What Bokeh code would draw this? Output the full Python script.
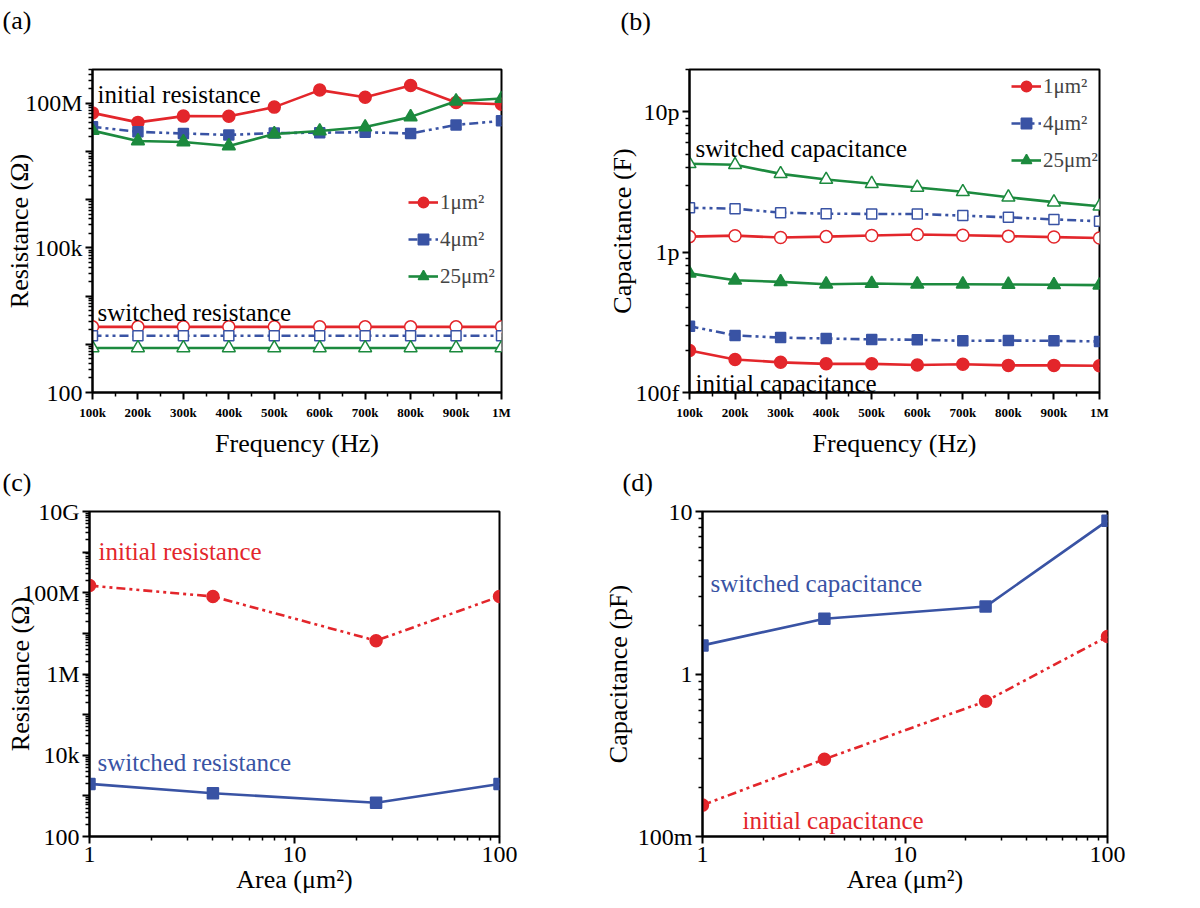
from bokeh.plotting import figure
from bokeh.layouts import column, row
from bokeh.models import Label, FixedTicker, Range1d, Title
from bokeh.embed import file_html
from bokeh.resources import INLINE

# ---------------- data ----------------
freq = [1e5, 2e5, 3e5, 4e5, 5e5, 6e5, 7e5, 8e5, 9e5, 1e6]
freq_labels = ["100k", "200k", "300k", "400k", "500k", "600k", "700k", "800k", "900k", "1M"]

# (a) resistance vs frequency (ohm)
R_init_1 = [6.3e7, 4.0e7, 5.4e7, 5.35e7, 8.3e7, 1.87e8, 1.33e8, 2.33e8, 1.03e8, 9.5e7]
R_init_4 = [3.25e7, 2.55e7, 2.35e7, 2.2e7, 2.4e7, 2.45e7, 2.5e7, 2.35e7, 3.55e7, 4.3e7]
R_init_25 = [2.7e7, 1.65e7, 1.57e7, 1.3e7, 2.3e7, 2.65e7, 3.2e7, 5.2e7, 1.1e8, 1.25e8]
R_sw_1 = [2300, 2300, 2300, 2300, 2300, 2300, 2300, 2300, 2300, 2300]
R_sw_4 = [1500, 1500, 1500, 1500, 1500, 1500, 1500, 1500, 1500, 1500]
R_sw_25 = [840, 840, 840, 840, 840, 840, 840, 840, 840, 840]

# (b) capacitance vs frequency (F)
C_sw_25 = [4.26e-12, 4.19e-12, 3.61e-12, 3.29e-12, 3.07e-12, 2.89e-12, 2.69e-12, 2.46e-12, 2.27e-12, 2.12e-12]
C_sw_4 = [2.07e-12, 2.04e-12, 1.91e-12, 1.88e-12, 1.87e-12, 1.87e-12, 1.82e-12, 1.77e-12, 1.71e-12, 1.66e-12]
C_sw_1 = [1.29e-12, 1.31e-12, 1.27e-12, 1.29e-12, 1.315e-12, 1.335e-12, 1.32e-12, 1.30e-12, 1.28e-12, 1.26e-12]
C_init_25 = [7.06e-13, 6.3e-13, 6.14e-13, 5.91e-13, 5.97e-13, 5.91e-13, 5.91e-13, 5.88e-13, 5.85e-13, 5.82e-13]
C_init_4 = [2.97e-13, 2.55e-13, 2.46e-13, 2.425e-13, 2.39e-13, 2.375e-13, 2.335e-13, 2.345e-13, 2.335e-13, 2.31e-13]
C_init_1 = [1.99e-13, 1.72e-13, 1.64e-13, 1.60e-13, 1.60e-13, 1.57e-13, 1.59e-13, 1.56e-13, 1.56e-13, 1.55e-13]

# (c), (d) vs area
area = [1, 4, 25, 100]
R_init_area = [1.5e8, 8.1e7, 6.6e6, 8.1e7]
R_sw_area = [1970, 1160, 675, 1970]
C_sw_area = [1.5, 2.19, 2.6, 8.78]       # pF
C_init_area = [0.156, 0.299, 0.679, 1.70]  # pF

series_names = ["1\u03bcm\u00b2", "4\u03bcm\u00b2", "25\u03bcm\u00b2"]

# ---------------- style ----------------
RED = "#e3262b"
BLUE = "#3953a4"
GREEN = "#1c8a3e"
FONT = "Liberation Serif"
DASH = "9 4 3 4 3 4"


def log_minor(lo_exp, hi_exp):
    out = []
    for e in range(lo_exp, hi_exp):
        for m in range(2, 10):
            out.append(m * 10.0 ** e)
    return out


def make_fig(xtype, ytype, xr, yr, bl, br, bt, bb, h, tag, tag_off, gap):
    p = figure(width=600, height=h, x_axis_type=xtype, y_axis_type=ytype,
               x_range=Range1d(*xr), y_range=Range1d(*yr),
               output_backend="svg", toolbar_location=None,
               min_border_left=bl, min_border_right=br,
               min_border_top=bt, min_border_bottom=bb,
               title=tag)
    p.title.align = "left"
    p.title.offset = tag_off
    p.title.standoff = 2
    p.title.text_font = FONT
    p.title.text_font_size = "26px"
    p.title.text_font_style = "normal"
    p.title.text_color = "black"
    # spacer between the panel tag and the frame
    p.add_layout(Title(text=" ", text_font_size="2px", standoff=gap), "above")
    p.grid.visible = False
    p.outline_line_color = "black"
    p.outline_line_width = 2
    p.outline_line_alpha = 1
    p.background_fill_color = "white"
    p.border_fill_color = "white"
    for ax in (p.xaxis[0], p.yaxis[0]):
        ax.axis_line_width = 2
        ax.major_tick_line_width = 2
        ax.minor_tick_line_width = 1.5
        ax.major_tick_in = 0
        ax.major_tick_out = 7
        ax.minor_tick_in = 0
        ax.minor_tick_out = 4
        ax.axis_label_text_font = FONT
        ax.axis_label_text_font_style = "normal"
        ax.axis_label_text_font_size = "26px"
        ax.axis_label_text_color = "black"
        ax.major_label_text_font = FONT
        ax.major_label_text_font_size = "24px"
        ax.major_label_text_color = "black"
    return p


def add_text(p, txt, x, y, color="black", size="25px"):
    p.add_layout(Label(x=x, y=y, x_units="screen", y_units="screen", text=txt,
                       text_font=FONT, text_font_size=size, text_color=color,
                       text_baseline="alphabetic"))


def series(p, x, y, color, marker, size, filled, dash="solid", label=None):
    kw = {}
    if label is not None:
        kw["legend_label"] = label
    p.line(x, y, line_color=color, line_width=2.6, line_dash=dash, **kw)
    p.scatter(x, y, marker=marker, size=size, line_color=color, line_width=1.5,
              fill_color=color if filled else "white", **kw)


def freq_axis(p):
    ax = p.xaxis[0]
    ax.ticker = FixedTicker(ticks=freq, minor_ticks=[1.5e5 + 1e5 * i for i in range(9)])
    ax.major_label_overrides = {f: l for f, l in zip(freq, freq_labels)}
    ax.major_label_text_font_size = "13px"
    ax.major_label_text_font_style = "bold"
    ax.major_label_standoff = 5
    ax.axis_label = "Frequency (Hz)"
    ax.axis_label_standoff = 6


def style_legend(p, loc):
    lg = p.legend[0]
    lg.location = loc
    lg.border_line_alpha = 0
    lg.background_fill_alpha = 0
    lg.padding = 0
    lg.margin = 0
    lg.spacing = 11
    lg.glyph_width = 30
    lg.glyph_height = 26
    lg.label_height = 26
    lg.label_standoff = 2
    lg.label_text_font = FONT
    lg.label_text_font_size = "21px"


# ---------------- (a) ----------------
pa = make_fig("linear", "log", (1e5, 1e6), (100, 5e8), 92, 99, 69, 62, 460, "(a)", -90, 30)
freq_axis(pa)
ya = pa.yaxis[0]
ya.ticker = FixedTicker(ticks=[1e2, 1e3, 1e4, 1e5, 1e6, 1e7, 1e8], minor_ticks=log_minor(2, 9))
ya.major_label_overrides = {1e2: "100", 1e3: "", 1e4: "", 1e5: "100k", 1e6: "", 1e7: "", 1e8: "100M"}
ya.axis_label = "Resistance (\u03a9)"
ya.axis_label_standoff = -12
ya.major_label_standoff = 3

series(pa, freq, R_init_1, RED, "circle", 12, True, label=series_names[0])
series(pa, freq, R_init_4, BLUE, "square", 10, True, DASH, label=series_names[1])
series(pa, freq, R_init_25, GREEN, "triangle", 13, True, label=series_names[2])
series(pa, freq, R_sw_1, RED, "circle", 12, False)
series(pa, freq, R_sw_4, BLUE, "square", 10, False, DASH)
series(pa, freq, R_sw_25, GREEN, "triangle", 13, False)
style_legend(pa, (316, 103))
add_text(pa, "initial resistance", 5, 298)
add_text(pa, "switched resistance", 5, 80)

# ---------------- (b) ----------------
pb = make_fig("linear", "log", (1e5, 1e6), (1e-13, 2e-11), 89, 101, 67, 64, 460, "(b)", -69, 29)
freq_axis(pb)
yb = pb.yaxis[0]
yb.ticker = FixedTicker(ticks=[1e-13, 1e-12, 1e-11], minor_ticks=log_minor(-13, -11) + [2e-11])
yb.major_label_overrides = {1e-13: "100f", 1e-12: "1p", 1e-11: "10p"}
yb.axis_label = "Capacitance (F)"
yb.axis_label_standoff = -4
yb.major_label_standoff = 3

series(pb, freq, C_init_1, RED, "circle", 12, True, label=series_names[0])
series(pb, freq, C_init_4, BLUE, "square", 10, True, DASH, label=series_names[1])
series(pb, freq, C_init_25, GREEN, "triangle", 13, True, label=series_names[2])
series(pb, freq, C_sw_1, RED, "circle", 12, False)
series(pb, freq, C_sw_4, BLUE, "square", 10, False, DASH)
series(pb, freq, C_sw_25, GREEN, "triangle", 13, False)
style_legend(pb, (322, 219))
add_text(pb, "switched capacitance", 6, 244)
add_text(pb, "initial capacitance", 6, 9)

# ---------------- (c) ----------------
pc = make_fig("log", "log", (1, 100), (100, 1e10), 89, 101, 48, 70, 446, "(c)", -87, 10)
xc = pc.xaxis[0]
xc.ticker = FixedTicker(ticks=[1, 10, 100], minor_ticks=log_minor(0, 2))
xc.major_label_overrides = {1: "1", 10: "10", 100: "100"}
xc.axis_label = "Area (\u03bcm\u00b2)"
xc.axis_label_standoff = 0
xc.major_label_standoff = 3
yc = pc.yaxis[0]
yc.ticker = FixedTicker(ticks=[1e2, 1e3, 1e4, 1e5, 1e6, 1e7, 1e8, 1e9, 1e10],
                        minor_ticks=log_minor(2, 10))
yc.major_label_overrides = {1e2: "100", 1e3: "", 1e4: "10k", 1e5: "", 1e6: "1M",
                            1e7: "", 1e8: "100M", 1e9: "", 1e10: "10G"}
yc.axis_label = "Resistance (\u03a9)"
yc.axis_label_standoff = -16
yc.major_label_standoff = 3
series(pc, area, R_init_area, RED, "circle", 12, True, DASH)
series(pc, area, R_sw_area, BLUE, "square", 11, True)
add_text(pc, "initial resistance", 9, 285, color=RED)
add_text(pc, "switched resistance", 8, 74, color=BLUE)

# ---------------- (d) ----------------
pd_ = make_fig("log", "log", (1, 100), (0.1, 10), 100, 93, 51, 66, 446, "(d)", -80, 10)
xd = pd_.xaxis[0]
xd.ticker = FixedTicker(ticks=[1, 10, 100], minor_ticks=log_minor(0, 2))
xd.major_label_overrides = {1: "1", 10: "10", 100: "100"}
xd.axis_label = "Area (\u03bcm\u00b2)"
xd.axis_label_standoff = 0
xd.major_label_standoff = 3
yd = pd_.yaxis[0]
yd.ticker = FixedTicker(ticks=[0.1, 1, 10], minor_ticks=log_minor(-1, 1))
yd.major_label_overrides = {0.1: "100m", 1: "1", 10: "10"}
yd.axis_label = "Capacitance (pF)"
yd.axis_label_standoff = 2
yd.major_label_standoff = 3
series(pd_, area, C_sw_area, BLUE, "square", 11, True)
series(pd_, area, C_init_area, RED, "circle", 12, True, DASH)
add_text(pd_, "switched capacitance", 8, 253, color=BLUE)
add_text(pd_, "initial capacitance", 40, 16, color=RED)

layout = column(row(pa, pb), row(pc, pd_))
open("out.html", "w").write(file_html(layout, INLINE))
